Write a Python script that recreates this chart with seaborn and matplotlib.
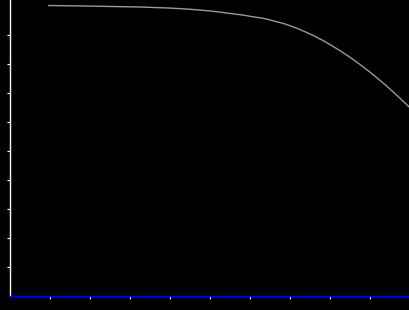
import matplotlib
matplotlib.use("Agg")
import matplotlib.pyplot as plt
import seaborn as sns
import pandas as pd

x_vals = [0.95, 1.825, 3.25, 3.95, 4.4, 4.725, 5.0, 5.225, 5.4, 5.6, 5.8, 5.95,
          6.1, 6.275, 6.4, 6.625, 6.875, 7.125, 7.375, 7.625, 7.875, 8.25, 8.5, 8.75,
          9.05, 9.375, 9.675, 10.0]
y_vals = [10.0, 9.983, 9.948, 9.914, 9.879, 9.845, 9.81, 9.776, 9.741, 9.707, 9.672, 9.638,
          9.603, 9.569, 9.534, 9.452, 9.359, 9.234, 9.09, 8.928, 8.745, 8.434, 8.203, 7.955,
          7.634, 7.259, 6.883, 6.459]
x_ticks = [1, 2, 3, 4, 5, 6, 7, 8, 9]
y_ticks = [1, 2, 3, 4, 5, 6, 7, 8, 9]

df = pd.DataFrame({"x": x_vals, "y": y_vals})

sns.set_style("dark")
fig = plt.figure(figsize=(4.1, 3.1), dpi=100, facecolor="black")
ax = fig.add_axes([10.5 / 410, 14.5 / 310, 399.5 / 410, 295.5 / 310])
ax.set_facecolor("black")
sns.lineplot(data=df, x="x", y="y", ax=ax, color="#9a9a9a", linewidth=1.0)
ax.set_xlim(0, 9.9875)
ax.set_ylim(0, 10.19)
ax.set_xticks(x_ticks)
ax.set_yticks(y_ticks)
ax.set_xticklabels([])
ax.set_yticklabels([])
ax.set_xlabel("")
ax.set_ylabel("")
ax.grid(False)
for s in ["top", "right"]:
    ax.spines[s].set_visible(False)
ax.spines["left"].set_color("white")
ax.spines["left"].set_linewidth(1.0)
ax.spines["bottom"].set_color("#0000ff")
ax.spines["bottom"].set_linewidth(1.0)
ax.tick_params(axis="both", direction="out", length=2.5, width=0.8, colors="white", bottom=True, left=True)
fig.savefig("out.png", dpi=100, facecolor="black")
